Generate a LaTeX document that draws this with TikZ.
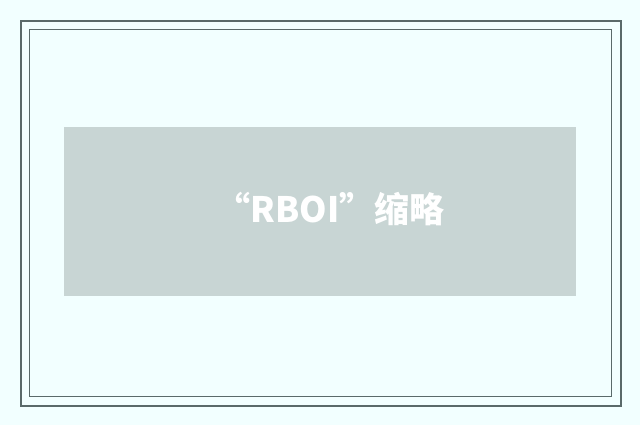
\documentclass[tikz,border=0pt]{standalone}
\usepackage{fontspec}
\newfontfamily\cjk{Noto Sans CJK SC}
\definecolor{bgc}{HTML}{F2FFFF}
\definecolor{framec}{HTML}{5A6A6A}
\definecolor{boxc}{HTML}{C8D5D4}
\begin{document}
\begin{tikzpicture}[x=1pt,y=1pt,
  outerframe/.style={draw=framec,line width=2pt},
  innerframe/.style={draw=framec,line width=1pt},
  banner/.style={fill=boxc,draw=none},
  title/.style={text=white,font=\cjk\bfseries\fontsize{35}{42}\selectfont,inner sep=0pt}]
\fill[bgc] (0,0) rectangle (640,425);
\useasboundingbox (0,0) rectangle (640,425);
\draw[outerframe] (21,19) rectangle (621,404);
\draw[innerframe] (29.5,28.5) rectangle (611.5,395.5);
\fill[banner] (64,129) rectangle (576,298);
\node[title,anchor=base] (t) at (330,202) {“RBOI”缩略};
\end{tikzpicture}
\end{document}
